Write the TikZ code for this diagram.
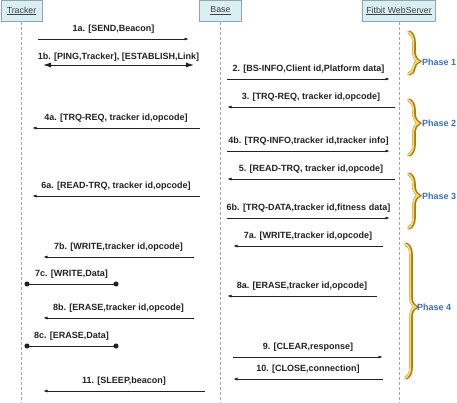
\documentclass[tikz,border=0pt]{standalone}
\usepackage{fontspec}
\setmainfont{Liberation Sans}
\usetikzlibrary{arrows.meta,decorations.pathreplacing}
\definecolor{hdrfill}{HTML}{DBEEF4}
\definecolor{hdrborder}{HTML}{8FA8B0}
\definecolor{phaseblue}{HTML}{3A6EBF}
\definecolor{golddark}{HTML}{B07A12}
\definecolor{goldlight}{HTML}{F8DC6A}
\definecolor{msgcol}{HTML}{222222}
\begin{document}
\begin{tikzpicture}[x=1pt,y=-1pt,
  hdr/.style={draw=hdrborder, fill=hdrfill, line width=0.8pt, minimum height=21pt, inner sep=0pt, font=\fontsize{8.8}{10}\selectfont, text=black!75},
  life/.style={draw=gray!70, dash pattern=on 3pt off 2pt, line width=0.8pt},
  msg/.style={draw=msgcol, line width=0.8pt, -{Latex[length=4.5pt,width=3pt]}},
  dmsg/.style={draw=msgcol, line width=0.9pt, {Latex[length=8pt,width=5pt]}-{Latex[length=8pt,width=5pt]}},
  dot/.style={draw=msgcol, line width=0.8pt, {Circle[length=5pt]}-{Circle[length=5pt]}},
  lbl/.style={font=\bfseries\fontsize{9}{10}\selectfont, text=msgcol, inner sep=0pt, midway, yshift=10pt},
  phase/.style={font=\bfseries\fontsize{9}{10}\selectfont, text=phaseblue, inner sep=0pt, anchor=west},
  gbrace/.style={decorate, decoration={brace, amplitude=10pt, aspect=#1}, line width=3.6pt, draw=golddark, line cap=round},
  gbracehi/.style={decorate, decoration={brace, amplitude=10pt, aspect=#1}, line width=1.8pt, draw=goldlight, line cap=round},
]
\useasboundingbox (0,0) rectangle (457,402);
% headers
\node[hdr, minimum width=41pt] (tracker) at (21.5,11) {\underline{Tracker}};
\node[hdr, minimum width=42pt] (base) at (220.5,11) {\underline{Base}};
\node[hdr, minimum width=73pt] (web) at (399,11) {\underline{Fitbit WebServer}};
% lifelines
\coordinate (tEnd) at (21.5,402);
\coordinate (bEnd) at (220.5,402);
\coordinate (wEnd) at (399,402);
\draw[life] (tracker.south) -- (tEnd);
\draw[life] (base.south) -- (bEnd);
\draw[life] (web.south) -- (wEnd);
% messages
\coordinate (a1s) at (38,39);   \coordinate (a1e) at (189,39);
\draw[msg] (a1s) -- node[lbl] {1a. [SEND,Beacon]} (a1e);
\coordinate (b1s) at (43,65);   \coordinate (b1e) at (194,65);
\draw[dmsg] (b1s) -- node[lbl, yshift=-2pt] {1b. [PING,Tracker], [ESTABLISH,Link]} (b1e);
\coordinate (m2s) at (227,79);  \coordinate (m2e) at (390,79);
\draw[msg] (m2s) -- node[lbl] {2. [BS-INFO,Client id,Platform data]} (m2e);
\coordinate (m3s) at (395,107); \coordinate (m3e) at (227,107);
\draw[msg] (m3s) -- node[lbl] {3. [TRQ-REQ, tracker id,opcode]} (m3e);
\coordinate (a4s) at (200,128); \coordinate (a4e) at (32,128);
\draw[msg] (a4s) -- node[lbl] {4a. [TRQ-REQ, tracker id,opcode]} (a4e);
\coordinate (b4s) at (227,151); \coordinate (b4e) at (390,151);
\draw[msg] (b4s) -- node[lbl] {4b. [TRQ-INFO,tracker id,tracker info]} (b4e);
\coordinate (m5s) at (395,179); \coordinate (m5e) at (227,179);
\draw[msg] (m5s) -- node[lbl] {5. [READ-TRQ, tracker id,opcode]} (m5e);
\coordinate (a6s) at (200,196); \coordinate (a6e) at (32,196);
\draw[msg] (a6s) -- node[lbl] {6a. [READ-TRQ, tracker id,opcode]} (a6e);
\coordinate (b6s) at (227,218); \coordinate (b6e) at (390,218);
\draw[msg] (b6s) -- node[lbl] {6b. [TRQ-DATA,tracker id,fitness data]} (b6e);
\coordinate (a7s) at (383,246); \coordinate (a7e) at (233,246);
\draw[msg] (a7s) -- node[lbl] {7a. [WRITE,tracker id,opcode]} (a7e);
\coordinate (b7s) at (194,257); \coordinate (b7e) at (43,257);
\draw[msg] (b7s) -- node[lbl] {7b. [WRITE,tracker id,opcode]} (b7e);
\coordinate (c7s) at (24.5,284); \coordinate (c7e) at (118.5,284);
\draw[dot] (c7s) -- node[lbl] {7c. [WRITE,Data]} (c7e);
\coordinate (a8s) at (377,296); \coordinate (a8e) at (227,296);
\draw[msg] (a8s) -- node[lbl] {8a. [ERASE,tracker id,opcode]} (a8e);
\coordinate (b8s) at (194,318); \coordinate (b8e) at (43,318);
\draw[msg] (b8s) -- node[lbl] {8b. [ERASE,tracker id,opcode]} (b8e);
\coordinate (c8s) at (24.5,346); \coordinate (c8e) at (118.5,346);
\draw[dot] (c8s) -- node[lbl] {8c. [ERASE,Data]} (c8e);
\coordinate (m9s) at (233,357); \coordinate (m9e) at (383,357);
\draw[msg] (m9s) -- node[lbl] {9. [CLEAR,response]} (m9e);
\coordinate (m10s) at (383,379); \coordinate (m10e) at (233,379);
\draw[msg] (m10s) -- node[lbl] {10. [CLOSE,connection]} (m10e);
\coordinate (m11s) at (205,391); \coordinate (m11e) at (43,391);
\draw[msg] (m11s) -- node[lbl] {11. [SLEEP,beacon]} (m11e);
% braces
\draw[gbrace=0.7] (409,32) -- (409,74);
\draw[gbracehi=0.7] (408.2,32) -- (408.2,74);
\draw[gbrace=0.42] (409,100) -- (409,155);
\draw[gbracehi=0.42] (408.2,100) -- (408.2,155);
\draw[gbrace=0.4] (409,174) -- (409,228);
\draw[gbracehi=0.4] (408.2,174) -- (408.2,228);
\draw[gbrace=0.47] (406,244) -- (406,378);
\draw[gbracehi=0.47] (405.2,244) -- (405.2,378);
% phase labels
\node[phase] (p1) at (422,62) {Phase 1};
\node[phase] (p2) at (422,123) {Phase 2};
\node[phase] (p3) at (422,196) {Phase 3};
\node[phase] (p4) at (417,307) {Phase 4};
\end{tikzpicture}
\end{document}
